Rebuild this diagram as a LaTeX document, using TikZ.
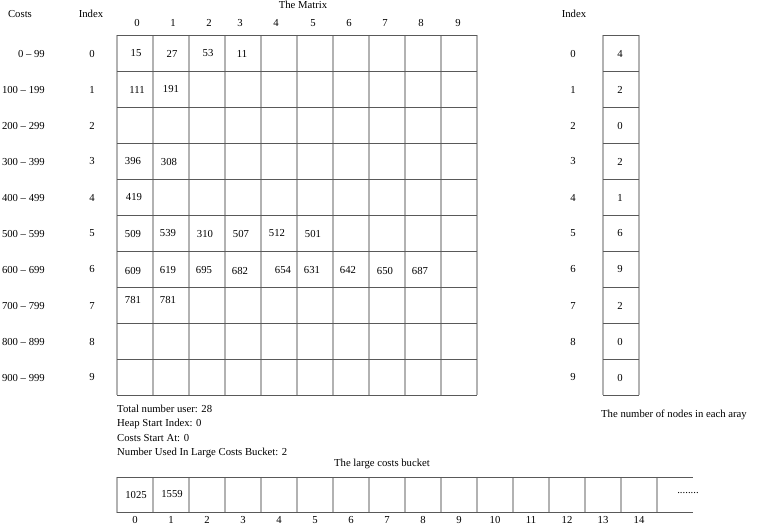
\documentclass[tikz,border=0pt]{standalone}
\usepackage{fontspec}
\setmainfont{Liberation Serif}
\begin{document}
\begin{tikzpicture}[x=1pt,y=-1pt,
  vline/.style={draw=black!30,line width=1.5pt},
  hline/.style={draw=black!65,line width=0.8pt},
  lbl/.style={inner sep=0pt,font=\fontsize{10.7}{12}\selectfont},
  lbll/.style={lbl,anchor=west},
  lblr/.style={lbl,anchor=east}]
\useasboundingbox (0,0) rectangle (758,526);
% ---- headers
\node[lbl] (hcosts) at (20,14) {Costs};
\node[lbl] (hindex) at (91,14) {Index};
\node[lbl] (hmatrix) at (303,5) {The Matrix};
\node[lbl] (hindex2) at (574,14) {Index};
\foreach \c/\x in {0/137,1/173,2/209,3/240,4/276,5/313,6/349,7/385,8/421,9/458}
  \node[lbl] (col\c) at (\x,23) {\c};
% ---- row labels
\foreach \i/\t in {0/0 – 99,1/100 – 199,2/200 – 299,3/300 – 399,4/400 – 499,5/500 – 599,6/600 – 699,7/700 – 799,8/800 – 899,9/900 – 999}{
  \node[lblr] (cost\i) at (45,53.5+36*\i) {\t};
  \node[lbl] (idx\i) at (92,53.5+36*\i) {\i};
  \node[lbl] (ridx\i) at (573,53.5+36*\i) {\i};
}
% ---- matrix grid
\foreach \i in {0,...,10}
  \draw[vline] (117+36*\i,35) -- (117+36*\i,395);
\foreach \i in {0,...,10}
  \draw[hline] (117,35+36*\i) -- (477,35+36*\i);
% ---- matrix values
\foreach \n/\x/\y in {a/136/53.5,b/172/53.5,c/207/53.5,d/242/53.5}{}
\node[lbl] (m00) at (136,53.5) {15};
\node[lbl] (m01) at (172,53.5) {27};
\node[lbl] (m02) at (208,53.5) {53};
\node[lbl] (m03) at (242,53.5) {11};
\node[lbl] (m10) at (137,89.5) {111};
\node[lbl] (m11) at (171,89.5) {191};
\node[lbl] (m30) at (133,161.5) {396};
\node[lbl] (m31) at (169,161.5) {308};
\node[lbl] (m40) at (134,197.5) {419};
\node[lbl] (m50) at (133,233.5) {509};
\node[lbl] (m51) at (168,233.5) {539};
\node[lbl] (m52) at (205,233.5) {310};
\node[lbl] (m53) at (241,233.5) {507};
\node[lbl] (m54) at (277,233.5) {512};
\node[lbl] (m55) at (313,233.5) {501};
\node[lbl] (m60) at (133,270.5) {609};
\node[lbl] (m61) at (168,270.5) {619};
\node[lbl] (m62) at (204,270.5) {695};
\node[lbl] (m63) at (240,270.5) {682};
\node[lbl] (m64) at (283,270.5) {654};
\node[lbl] (m65) at (312,270.5) {631};
\node[lbl] (m66) at (348,270.5) {642};
\node[lbl] (m67) at (385,270.5) {650};
\node[lbl] (m68) at (420,270.5) {687};
\node[lbl] (m70) at (133,300) {781};
\node[lbl] (m71) at (168,300) {781};
% ---- right array
\draw[vline] (603,35) -- (603,395);
\draw[vline] (639,35) -- (639,395);
\foreach \i in {0,...,10}
  \draw[hline] (603,35+36*\i) -- (639,35+36*\i);
\foreach \i/\v in {0/4,1/2,2/0,3/2,4/1,5/6,6/9,7/2,8/0,9/0}
  \node[lbl] (rv\i) at (620,53.5+36*\i) {\v};
\node[lbll] (rcap) at (601,415) {The number of nodes in each aray};
% ---- info text
\node[lbll] (t1) at (117,409) {Total number user: 28};
\node[lbll] (t2) at (117,423.5) {Heap Start Index: 0};
\node[lbll] (t3) at (117,438) {Costs Start At: 0};
\node[lbll] (t4) at (117,452.5) {Number Used In Large Costs Bucket: 2};
% ---- large costs bucket
\node[lbl] (bcap) at (382,464) {The large costs bucket};
\foreach \i in {0,...,15}
  \draw[vline] (117+36*\i,477) -- (117+36*\i,512.5);
\draw[hline] (117,477) -- (693,477);
\draw[hline] (117,512.5) -- (693,512.5);
\node[lbl] (b0) at (136,494.5) {1025};
\node[lbl] (b1) at (172,494.5) {1559};
\node[lbl] (bdots) at (688,493) {........};
\foreach \i in {0,...,14}
  \node[lbl] (bi\i) at (135+36*\i,520) {\i};
\end{tikzpicture}
\end{document}
